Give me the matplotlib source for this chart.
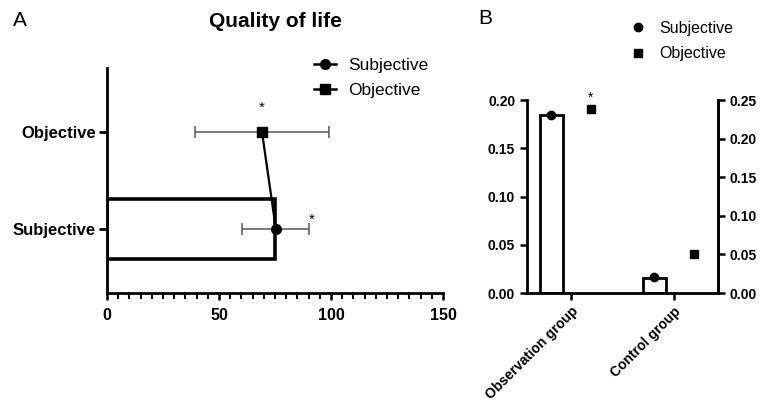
import numpy as np
import matplotlib
matplotlib.use("Agg")
import matplotlib.pyplot as plt

plt.rcParams['font.family'] = ['Liberation Sans', 'DejaVu Sans']

# panel A data
qol_cats = ['Subjective', 'Objective']
qol_bar_cats = ['Subjective']
qol_bar_vals = [75]
qol_means = [75.4, 69.2]
qol_err = [15, 30]

# panel B data
groups = ['Observation group', 'Control group']
subj_bar = [0.184, 0.0155]
subj_pts = [0.185, 0.0165]
obj_pts = [0.238, 0.050]

fig = plt.figure(figsize=(7.61, 4.05), dpi=100)

# ---------- A ----------
ax = fig.add_axes([0.1406, 0.2765, 0.4415, 0.5555])
ypos = np.arange(len(qol_cats))
bar_y = [qol_cats.index(c) for c in qol_bar_cats]
ax.barh(bar_y, qol_bar_vals, height=0.62, color='white', edgecolor='black',
        linewidth=2.6, zorder=1)
ax.errorbar(qol_means, ypos, xerr=qol_err, fmt='none', ecolor='#555555',
            elinewidth=1.1, capsize=4, capthick=1.1, zorder=2)
ax.plot(qol_means, ypos, color='black', lw=1.6, zorder=3)
ax.plot(qol_means[0], ypos[0], 'o', color='black', ms=7, zorder=4)
ax.plot(qol_means[1], ypos[1], 's', color='black', ms=7, zorder=4)
ax.text(qol_means[1], 1.25, '*', ha='center', va='center', fontsize=11)
ax.text(91.5, 0.1, '*', ha='center', va='center', fontsize=11)

ax.set_xlim(0, 150)
ax.set_ylim(-0.66, 1.66)
ax.set_yticks(ypos)
ax.set_yticklabels(qol_cats, fontsize=12, fontweight='bold')
ax.set_xticks([0, 50, 100, 150])
ax.set_xticklabels(['0', '50', '100', '150'], fontsize=11.5, fontweight='bold')
ax.set_xticks(np.arange(0, 151, 5), minor=True)
ax.tick_params(axis='x', which='major', length=5, width=1.8, pad=6)
ax.tick_params(axis='x', which='minor', length=4, width=1.5)
ax.tick_params(axis='y', length=6, width=2, pad=2)
for s in ['top', 'right']:
    ax.spines[s].set_visible(False)
for s in ['left', 'bottom']:
    ax.spines[s].set_linewidth(2)
ax.set_title('Quality of life', fontsize=15, fontweight='bold', pad=0,
             y=1.0 + (68 - 20) / 225.0 - 0.03)

h1, = ax.plot([], [], 'o-', color='black', ms=7, lw=1.8)
h2, = ax.plot([], [], 's-', color='black', ms=7, lw=1.8)
ax.legend([h1, h2], ['Subjective', 'Objective'], loc='center left',
          bbox_to_anchor=(0.412, 0.807), bbox_transform=fig.transFigure,
          frameon=False, fontsize=12.5, handlelength=1.3, handletextpad=0.7,
          labelspacing=0.55, borderpad=0, borderaxespad=0)

fig.text(0.017, 0.95, 'A', fontsize=15, va='center')

# ---------- B ----------
bx = fig.add_axes([0.6925, 0.2765, 0.251, 0.4765])
xpos = np.arange(len(groups))
off = 0.19
bx.bar(xpos - off, subj_bar, width=0.22, color='white', edgecolor='black',
       linewidth=2, zorder=1)
bx.plot(xpos - off, subj_pts, 'o', color='black', ms=6, zorder=3)
bx.set_xlim(-0.427, 1.427)
bx.set_ylim(0, 0.20)
bx.set_yticks([0, 0.05, 0.10, 0.15, 0.20])
bx.set_yticklabels(['0.00', '0.05', '0.10', '0.15', '0.20'], fontsize=10,
                   fontweight='bold')
bx.set_xticks(xpos)
bx.set_xticklabels(groups, rotation=45, ha='right', rotation_mode='anchor',
                   fontsize=10, fontweight='bold')
bx.tick_params(axis='both', length=5, width=1.8)
bx.tick_params(axis='x', pad=3)
bx.spines['top'].set_visible(False)
for s in ['left', 'bottom', 'right']:
    bx.spines[s].set_linewidth(2)

tx = bx.twinx()
tx.plot(xpos + off, obj_pts, 's', color='black', ms=6, zorder=3)
tx.set_ylim(0, 0.25)
tx.set_yticks([0, 0.05, 0.10, 0.15, 0.20, 0.25])
tx.set_yticklabels(['0.00', '0.05', '0.10', '0.15', '0.20', '0.25'],
                   fontsize=10, fontweight='bold')
tx.tick_params(axis='y', length=5, width=1.8)
tx.spines['top'].set_visible(False)
tx.spines['right'].set_linewidth(2)
tx.spines['left'].set_visible(False)
tx.spines['bottom'].set_visible(False)
tx.text(xpos[0] + off, 0.2526, '*', ha='center', va='center', fontsize=10)

g1, = bx.plot([], [], 'o', color='black', ms=6)
g2, = bx.plot([], [], 's', color='black', ms=6)
bx.legend([g1, g2], ['Subjective', 'Objective'], loc='center left',
          bbox_to_anchor=(0.830, 0.899), bbox_transform=fig.transFigure,
          frameon=False, fontsize=11.5, handlelength=0.8, handletextpad=0.9,
          labelspacing=0.65, borderpad=0, borderaxespad=0)

fig.text(0.628, 0.955, 'B', fontsize=15, va='center')

fig.savefig('out.png', dpi=100)
